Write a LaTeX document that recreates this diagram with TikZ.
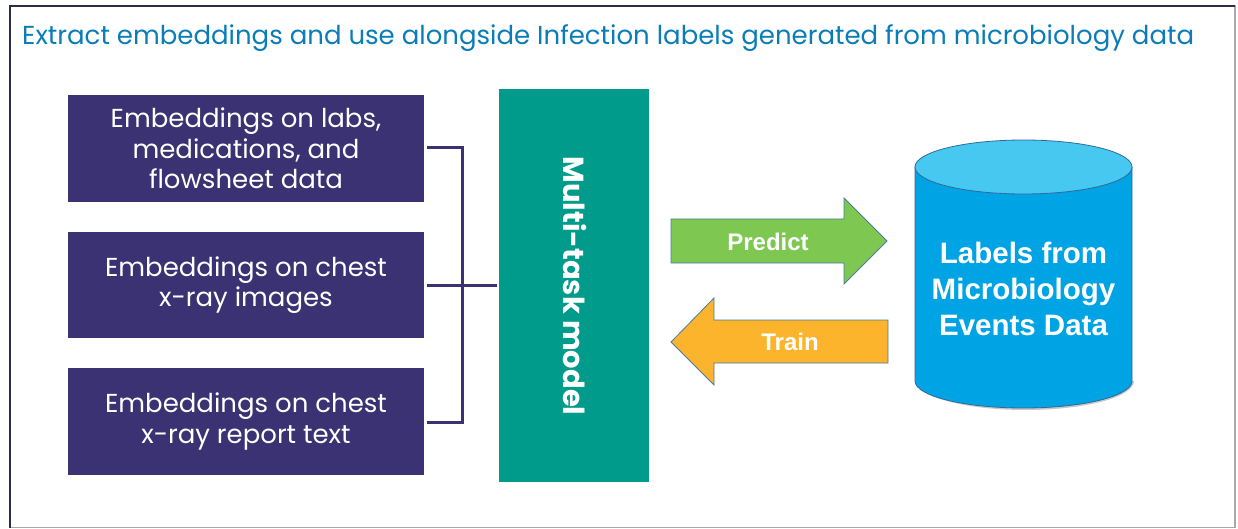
\documentclass[tikz,border=0pt]{standalone}
\usepackage{fontspec}
\setmainfont{Poppins}
\newfontfamily\arialb{Liberation Sans}[BoldFont={* Bold}]
\definecolor{titleblue}{HTML}{0A7DB8}
\definecolor{boxpurple}{HTML}{3B3273}
\definecolor{modelteal}{HTML}{009B8A}
\definecolor{predgreen}{HTML}{7EC852}
\definecolor{trainorange}{HTML}{FBB42B}
\definecolor{arrowedge}{HTML}{4A7BA8}
\definecolor{cylbody}{HTML}{00A3E4}
\definecolor{cyltop}{HTML}{46C8F1}
\definecolor{cyledge}{HTML}{2E6A9A}
\definecolor{framedark}{HTML}{2A2F45}
\definecolor{framegray}{HTML}{A8A8B8}
\tikzset{
  embbox/.style={fill=boxpurple, draw=none, text=white, align=center, font=\fontsize{26}{30.5}\selectfont, inner sep=0pt},
  joinline/.style={draw=boxpurple, line width=3pt},
  arrowshape/.style={draw=arrowedge, line width=0.8pt},
  arrowtext/.style={text=white, font=\arialb\bfseries\fontsize{24}{28}\selectfont},
}
\begin{document}
\begin{tikzpicture}[x=1pt,y=-1pt]
\useasboundingbox (0,0) rectangle (1238,529);
% frame
\draw[framegray, line width=1.2pt] (10,6) rectangle (1235,527.5);
\draw[framedark, line width=2pt] (10,527.5) -- (10,6) -- (1235,6);
% title
\node[anchor=base west, text=titleblue, font=\fontsize{26}{30}\selectfont, inner sep=0pt] (title) at (22,45) {Extract embeddings and use alongside Infection labels generated from microbiology data};
% embedding boxes
\fill[boxpurple] (68,95) rectangle (424,202);
\node[embbox] (b1) at (246,148.5) {Embeddings on labs,\\medications, and\\flowsheet data};
\fill[boxpurple] (68,232) rectangle (424,338);
\node[embbox] (b2) at (246,285) {Embeddings on chest\\x-ray images};
\fill[boxpurple] (68,368) rectangle (424,475);
\node[embbox] (b3) at (246,421.5) {Embeddings on chest\\x-ray report text};
\coordinate (r1) at (427,148);
\coordinate (r2) at (427,285);
\coordinate (r3) at (427,422);
\coordinate (j1) at (462,148);
\coordinate (j2) at (462,285);
\coordinate (j3) at (462,422);
% model
\fill[modelteal] (499,89) rectangle (649,482);
\node[rotate=-90, text=white, font=\bfseries\fontsize{29}{32}\selectfont, inner sep=0pt] (model) at (575,286) {Multi-task model};
\coordinate (mleft) at (497,285);
% bracket
\draw[joinline] (r1) -- (j1) -- (j3) -- (r3);
\draw[joinline] (r2) -- (mleft);
% predict arrow
\draw[arrowshape, fill=predgreen] (671,219) -- (844,219) -- (844,198) -- (887,241) -- (844,284) -- (844,263) -- (671,263) -- cycle;
\node[arrowtext] (predict) at (768,242) {Predict};
% train arrow
\draw[arrowshape, fill=trainorange] (888,320) -- (714,320) -- (714,298) -- (671,342) -- (714,385) -- (714,363) -- (888,363) -- cycle;
\node[arrowtext] (train) at (790,342) {Train};
% cylinder
\fill[black!22] (917,381) arc[start angle=180, end angle=0, x radius=108.5, y radius=29] -- cycle;
\draw[cyledge, line width=0.8pt, fill=cylbody] (915,167) -- (915,381) arc[start angle=180, end angle=0, x radius=108.5, y radius=27] -- (1132,167) -- cycle;
\draw[cyledge, line width=0.8pt, fill=cyltop] (1023.5,167) ellipse[x radius=108.5, y radius=27];
\node[text=white, align=center, font=\arialb\bfseries\fontsize{29.5}{36}\selectfont, inner sep=0pt] (labels) at (1023.5,289) {Labels from\\Microbiology\\Events Data};
\end{tikzpicture}
\end{document}
